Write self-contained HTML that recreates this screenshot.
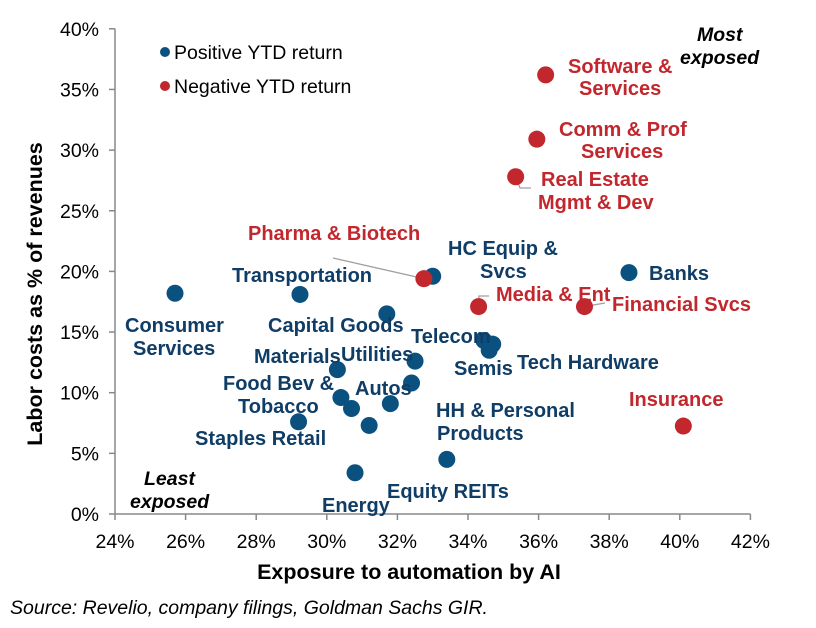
<!DOCTYPE html>
<html><head><meta charset="utf-8"><style>
body{margin:0;background:#fff;}
svg{display:block;font-family:"Liberation Sans",Arial,sans-serif;}
.lb{font-weight:bold;font-size:20px;}
.b{fill:#0f3d66}.r{fill:#c1272d}
.tk{font-size:19.5px;fill:#000}
.it{font-weight:bold;font-style:italic;font-size:19.5px}
</style></head><body>
<svg id="c" width="816" height="628" viewBox="0 0 816 628">
<g id="axes"></g><g id="leaders"></g><g id="dots"></g><g id="labels">
<text class="lb b" x="125" y="332">Consumer</text>
<text class="lb b" x="133" y="355">Services</text>
<text class="lb b" x="232" y="282">Transportation</text>
<text class="lb b" x="268" y="332">Capital Goods</text>
<text class="lb b" x="254" y="363">Materials</text>
<text class="lb b" x="341" y="361">Utilities</text>
<text class="lb b" x="223" y="390">Food Bev &amp;</text>
<text class="lb b" x="238" y="413">Tobacco</text>
<text class="lb b" x="355" y="395">Autos</text>
<text class="lb b" x="195" y="445">Staples Retail</text>
<text class="lb b" x="411" y="343">Telecom</text>
<text class="lb b" x="454" y="375">Semis</text>
<text class="lb b" x="517" y="369">Tech Hardware</text>
<text class="lb b" x="436" y="417">HH &amp; Personal</text>
<text class="lb b" x="437" y="440">Products</text>
<text class="lb b" x="387" y="498">Equity REITs</text>
<text class="lb b" x="322" y="512">Energy</text>
<text class="lb b" x="448" y="255">HC Equip &amp;</text>
<text class="lb b" x="480" y="278">Svcs</text>
<text class="lb b" x="649" y="280">Banks</text>
<text class="lb r" x="248" y="240">Pharma &amp; Biotech</text>
<text class="lb r" x="496" y="301">Media &amp; Ent</text>
<text class="lb r" x="612" y="311">Financial Svcs</text>
<text class="lb r" x="629" y="406">Insurance</text>
<text class="lb r" x="568" y="73">Software &amp;</text>
<text class="lb r" x="579" y="95">Services</text>
<text class="lb r" x="559" y="136">Comm &amp; Prof</text>
<text class="lb r" x="581" y="158">Services</text>
<text class="lb r" x="541" y="186">Real Estate</text>
<text class="lb r" x="538" y="209">Mgmt &amp; Dev</text>
<text class="it" x="697" y="41">Most</text>
<text class="it" x="680" y="64">exposed</text>
<text class="it" x="144" y="485">Least</text>
<text class="it" x="130" y="508">exposed</text>
</g>
<g>
<circle cx="165" cy="52" r="5" fill="#0b5180"/>
<text x="174" y="59" style="font-size:19.5px">Positive YTD return</text>
<circle cx="165" cy="86" r="5" fill="#c1272d"/>
<text x="174" y="93" style="font-size:19.5px">Negative YTD return</text>
</g>
<text x="409" y="579" text-anchor="middle" style="font-weight:bold;font-size:21.5px">Exposure to automation by AI</text>
<text transform="translate(42,294) rotate(-90)" text-anchor="middle" style="font-weight:bold;font-size:21.5px">Labor costs as % of revenues</text>
<text x="10" y="614" style="font-style:italic;font-size:19.5px">Source: Revelio, company filings, Goldman Sachs GIR.</text>
</svg>
<script>
const names=["Consumer Services","Transportation","Capital Goods","HC Equip & Svcs","Telecom","Tech Hardware","Semis","Materials","Utilities","Autos","HH & Personal Products","Food Bev & Tobacco","Food2","Food3","Staples Retail","Equity REITs","Energy","Banks","Pharma & Biotech","Media & Ent","Software & Services","Comm & Prof Services","Real Estate Mgmt & Dev","Financial Svcs","Insurance"];
const xVals=[25.7,29.24,31.7,33.0,34.45,34.7,34.6,30.3,32.5,32.4,31.8,30.4,30.7,31.2,29.2,33.4,30.8,38.56,32.75,34.3,36.2,35.95,35.35,37.3,40.1];
const yVals=[18.2,18.1,16.5,19.6,14.3,14.0,13.5,11.9,12.6,10.8,9.1,9.6,8.7,7.3,7.6,4.5,3.4,19.9,19.4,17.1,36.2,30.9,27.8,17.1,7.25];
const positive=[1,1,1,1,1,1,1,1,1,1,1,1,1,1,1,1,1,1,0,0,0,0,0,0,0];
const xTicks=[24,26,28,30,32,34,36,38,40,42];
const yTicks=[0,5,10,15,20,25,30,35,40];
const X=v=>115+(v-24)*35.3, Y=v=>514-v*12.13;
const NS="http://www.w3.org/2000/svg";
function mk(t,a,p){const e=document.createElementNS(NS,t);for(const k in a)e.setAttribute(k,a[k]);p.appendChild(e);return e;}
const ax=document.getElementById('axes');
const yl=mk('line',{x1:115,y1:Y(40),x2:115,y2:514,stroke:'#888','stroke-width':1.5},ax);


const xl=mk('line',{x1:115,y1:514,x2:X(42),y2:514,stroke:'#888','stroke-width':1.5},ax);


xTicks.forEach(t=>{mk('line',{x1:X(t),y1:514,x2:X(t),y2:520,stroke:'#888','stroke-width':1.5},ax);
const e=mk('text',{x:X(t),y:548,'text-anchor':'middle',class:'tk'},ax);e.textContent=t+'%';

});
yTicks.forEach(t=>{mk('line',{x1:109,y1:Y(t),x2:115,y2:Y(t),stroke:'#888','stroke-width':1.5},ax);
const e=mk('text',{x:99,y:Y(t)+7,'text-anchor':'end',class:'tk'},ax);e.textContent=t+'%';

});
const ld=document.getElementById('leaders');
const i=n=>names.indexOf(n);
[[[333,258],[X(xVals[i("Pharma & Biotech")]),Y(yVals[i("Pharma & Biotech")])]],
 [[X(xVals[i("Real Estate Mgmt & Dev")]),Y(yVals[i("Real Estate Mgmt & Dev")])],[520,188],[531,188]],
 [[X(xVals[i("Media & Ent")]),Y(yVals[i("Media & Ent")])],[479,296],[489,296]],
 [[X(xVals[i("Financial Svcs")]),Y(yVals[i("Financial Svcs")])],[605,303]]].forEach(p=>{
 const l=mk('polyline',{points:p.map(q=>q.join(',')).join(' '),fill:'none',stroke:'#a0a0a0','stroke-width':1.3},ld);
 
 });
const dg=document.getElementById('dots');
names.forEach((n,k)=>{const c=mk('circle',{cx:X(xVals[k]),cy:Y(yVals[k]),r:8.5,fill:positive[k]?'#0b5180':'#c1272d'},dg);

});
</script>
</body></html>
